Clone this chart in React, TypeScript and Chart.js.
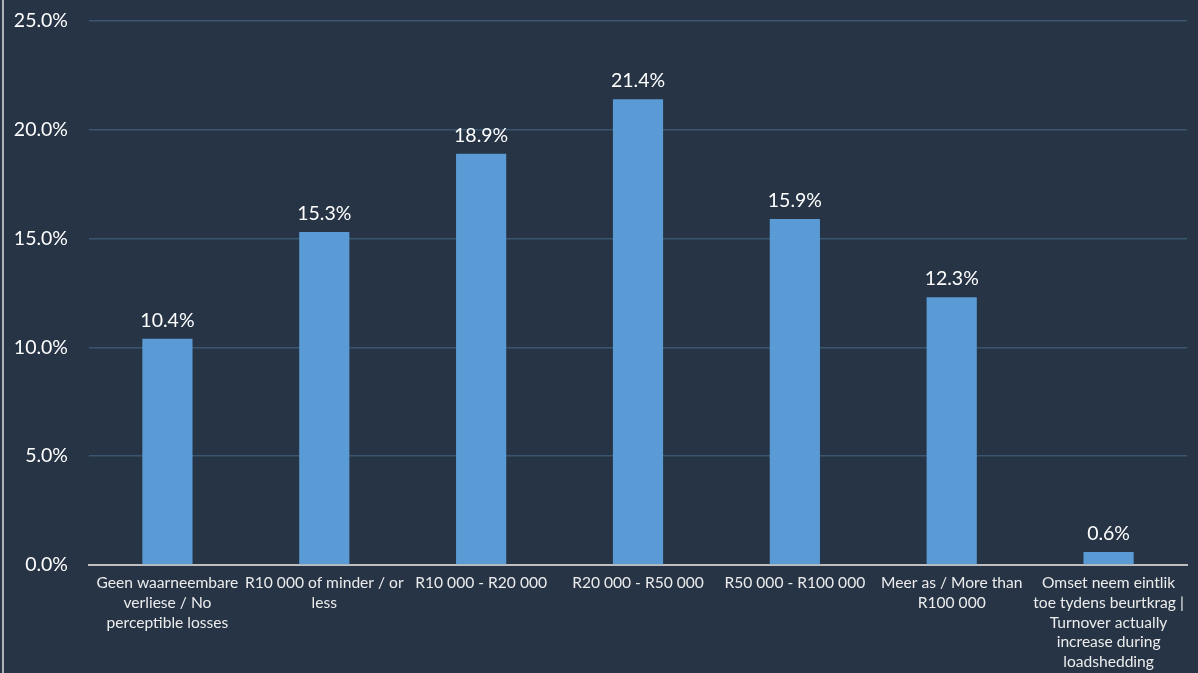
import React, { useEffect, useRef } from "react";
import { Chart, registerables } from "chart.js";

Chart.register(...registerables);

const categories: (string | string[])[] = [
  ["Geen waarneembare", "verliese / No", "perceptible losses"],
  ["R10 000 of minder / or", "less"],
  "R10 000 - R20 000",
  "R20 000 - R50 000",
  "R50 000 - R100 000",
  ["Meer as / More than", "R100 000"],
  ["Omset neem eintlik", "toe tydens beurtkrag |", "Turnover actually", "increase during", "loadshedding"],
];

const values: number[] = [10.4, 15.3, 18.9, 21.4, 15.9, 12.3, 0.6];

const yTicks: number[] = [0, 5, 10, 15, 20, 25];

const FONT = "Lato, 'Open Sans', sans-serif";
const BG = "#263445";

const dataLabelPlugin = {
  id: "dataLabels",
  afterDatasetsDraw(chart: any) {
    const ctx = chart.ctx;
    const meta = chart.getDatasetMeta(0);
    ctx.save();
    ctx.fillStyle = "#ffffff";
    ctx.font = `19.5px ${FONT}`;
    ctx.textAlign = "center";
    ctx.textBaseline = "alphabetic";
    meta.data.forEach((el: any, i: number) => {
      ctx.fillText(values[i].toFixed(1) + "%", el.x, el.y - 12);
    });
    ctx.restore();
  },
};

export default function App() {
  const ref = useRef<HTMLCanvasElement | null>(null);

  useEffect(() => {
    document.body.style.margin = "0";
    const canvas = ref.current;
    if (!canvas) return;
    const chart = new Chart(canvas, {
      type: "bar",
      data: {
        labels: categories,
        datasets: [
          {
            data: values,
            backgroundColor: "#5B9BD5",
            borderWidth: 0,
            categoryPercentage: 1,
            barPercentage: 0.32,
          },
        ],
      },
      options: {
        animation: false,
        responsive: false,
        maintainAspectRatio: false,
        layout: { padding: { top: 21, right: 11, bottom: 0, left: 0 } },
        plugins: {
          legend: { display: false },
          tooltip: { enabled: false },
        },
        scales: {
          x: {
            grid: { display: false, drawTicks: false },
            border: { display: true, color: "#bfbfbf", width: 2 },
            ticks: {
              color: "#ececec",
              font: { family: FONT, size: 15.6, lineHeight: 1.27 },
              autoSkip: false,
              maxRotation: 0,
              minRotation: 0,
              padding: 8,
            },
            afterFit(scale: any) {
              scale.height = 108;
            },
          },
          y: {
            min: 0,
            max: 25,
            afterBuildTicks(scale: any) {
              scale.ticks = yTicks.map((v) => ({ value: v }));
            },
            grid: { color: "#3a5570", lineWidth: 1.5, drawTicks: false },
            border: { display: false },
            ticks: {
              color: "#ffffff",
              font: { family: FONT, size: 19.5 },
              padding: 21,
              callback: (v: any) => Number(v).toFixed(1) + "%",
            },
            afterFit(scale: any) {
              scale.width = 89;
              scale.paddingTop = 12;
              scale.paddingBottom = 12;
            },
          },
        },
      },
      plugins: [dataLabelPlugin],
    });
    return () => chart.destroy();
  }, []);

  return (
    <div
      style={{
        position: "fixed",
        left: 0,
        top: 0,
        width: 1198,
        height: 673,
        background: BG,
      }}
    >
      <canvas ref={ref} width={1198} height={673} style={{ display: "block" }} />
      <div
        style={{
          position: "absolute",
          left: 2,
          top: 0,
          width: 2,
          height: 673,
          background: "#aeb3b8",
        }}
      />
    </div>
  );
}
